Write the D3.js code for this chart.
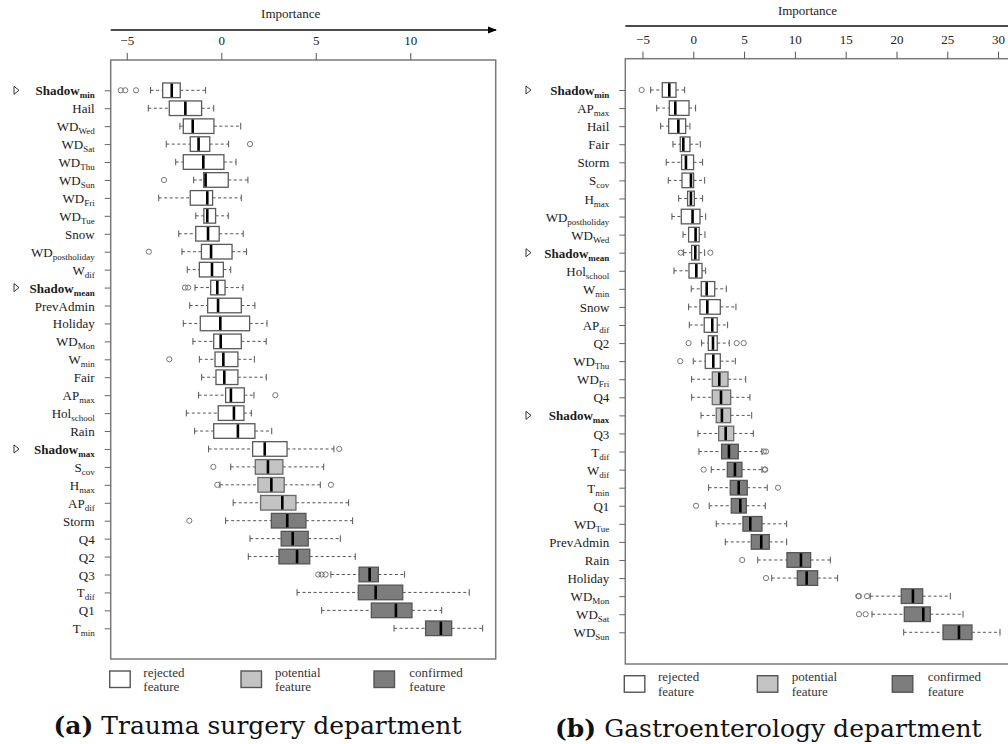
<!DOCTYPE html>
<html><head><meta charset="utf-8">
<script src="https://cdn.jsdelivr.net/npm/d3@7"></script>
<style>body{margin:0;background:#fff}svg{display:block}</style>
</head><body><svg id="c" width="1008" height="744"></svg>
<script>
// ---------- DATA: (a) Trauma surgery department ----------
const leftFeatures = ["Shadow_min","Hail","WD_Wed","WD_Sat","WD_Thu","WD_Sun","WD_Fri","WD_Tue","Snow","WD_postholiday","W_dif","Shadow_mean","PrevAdmin","Holiday","WD_Mon","W_min","Fair","AP_max","Hol_school","Rain","Shadow_max","S_cov","H_max","AP_dif","Storm","Q4","Q2","Q3","T_dif","Q1","T_min"];
const leftStatus = ["r","r","r","r","r","r","r","r","r","r","r","r","r","r","r","r","r","r","r","r","r","p","p","p","c","c","c","c","c","c","c"];
const leftMin    = [-3.74,-3.86,-2.19,-2.91,-2.41,-1.46,-3.31,-1.35,-2.25,-2.08,-1.80,-1.39,-1.67,-2.01,-1.50,-1.16,-1.04,-1.20,-1.85,-1.41,-0.67,0.50,-0.07,0.63,0.23,1.52,1.43,5.80,4.01,5.31,9.14];
const leftQ1     = [-3.10,-2.75,-2.01,-1.64,-2.01,-0.93,-1.64,-0.92,-1.35,-1.05,-1.16,-0.56,-0.72,-1.11,-0.40,-0.33,-0.28,0.23,-0.16,-0.40,1.66,1.80,1.94,2.08,2.65,3.17,3.05,7.29,7.25,7.94,10.81];
const leftMedian = [-2.62,-1.90,-1.51,-1.20,-0.95,-0.83,-0.74,-0.74,-0.70,-0.54,-0.49,-0.21,-0.17,-0.05,-0.03,0.11,0.16,0.51,0.67,0.88,2.30,2.47,2.65,3.23,3.49,3.78,4.01,7.85,8.17,9.24,11.62];
const leftQ3     = [-2.17,-1.04,-0.39,-0.61,0.14,0.37,-0.46,-0.30,-0.11,0.57,0.11,0.20,1.06,1.50,1.06,0.88,0.88,1.22,1.20,1.78,3.48,3.26,3.33,3.95,4.48,4.60,4.68,8.31,9.60,10.09,12.19];
const leftMax    = [-0.83,-0.40,1.03,0.39,0.78,1.41,1.06,0.37,1.16,1.34,0.50,1.15,1.78,2.42,2.38,1.75,2.38,1.73,1.59,2.67,5.96,5.42,5.24,6.74,6.95,6.30,7.09,9.70,13.12,11.66,13.83];
const leftOutliers = [[-5.32,-5.08,-4.51],[],[],[1.52],[],[-3.03],[],[],[],[-3.83],[],[-1.92,-1.75],[],[],[],[-2.75],[],[2.86],[],[],[6.24],[-0.42],[-0.21,5.80],[],[-1.69],[],[],[5.13,5.31,5.52],[],[],[]];
const leftTicks = [-5,0,5,10];

// ---------- DATA: (b) Gastroenterology department ----------
const rightFeatures = ["Shadow_min","AP_max","Hail","Fair","Storm","S_cov","H_max","WD_postholiday","WD_Wed","Shadow_mean","Hol_school","W_min","Snow","AP_dif","Q2","WD_Thu","WD_Fri","Q4","Shadow_max","Q3","T_dif","W_dif","T_min","Q1","WD_Tue","PrevAdmin","Rain","Holiday","WD_Mon","WD_Sat","WD_Sun"];
const rightStatus = ["r","r","r","r","r","r","r","r","r","r","r","r","r","r","r","r","p","p","p","p","c","c","c","c","c","c","c","c","c","c","c"];
const rightMin    = [-4.19,-3.60,-3.21,-2.00,-2.66,-2.46,-1.44,-2.10,-1.01,-0.95,-1.90,-0.20,-0.46,-0.39,0.82,0.00,-0.16,-0.16,0.76,0.46,0.56,1.77,1.51,1.57,2.26,3.15,6.34,7.72,17.42,17.59,20.71];
const rightQ1     = [-3.05,-2.36,-2.42,-1.28,-1.15,-1.11,-0.56,-1.18,-0.46,-0.16,-0.42,0.79,0.66,1.08,1.48,1.18,1.87,1.87,2.26,2.50,2.79,3.35,3.64,3.74,4.89,5.71,9.22,10.24,20.47,20.77,24.58];
const rightMedian = [-2.36,-1.77,-1.47,-0.98,-0.72,-0.23,-0.23,-0.07,0.23,0.20,0.30,1.32,1.38,1.87,1.94,1.97,2.56,2.73,2.82,3.19,3.51,4.10,4.47,4.63,5.61,6.69,10.60,11.16,21.62,22.64,26.15];
const rightQ3     = [-1.70,-0.42,-0.75,-0.33,0.03,0.03,0.10,0.66,0.59,0.56,0.86,2.11,2.66,2.36,2.36,2.66,3.42,3.68,3.68,3.98,4.43,4.79,5.31,5.22,6.76,7.48,11.55,12.24,22.58,23.33,27.43];
const rightMax    = [-0.85,0.23,-0.33,0.69,0.92,1.12,0.92,1.22,1.15,1.12,1.22,3.25,4.20,3.38,3.54,4.14,5.16,5.58,5.75,5.91,6.76,6.76,7.28,7.09,9.19,9.19,13.49,14.21,25.30,26.55,30.19];
const rightOutliers = [[-5.08],[],[],[],[],[],[],[],[],[-1.24,1.68],[],[],[],[],[-0.46,4.27,4.96],[-1.28],[],[],[],[],[6.93,7.16],[1.02,7.02,7.08],[8.34],[0.27],[],[],[4.82],[7.16],[16.24,16.30,17.10],[16.31,16.97],[]];
const rightTicks = [-5,0,5,10,15,20,25,30];

const legendLabels = [["rejected","feature"],["potential","feature"],["confirmed","feature"]];
const statusKeys = ["r","p","c"];
const captions = [["(a)"," Trauma surgery department"],["(b)"," Gastroenterology department"]];

// ---------- STYLE ----------
const FILL = {r:"#ffffff", p:"#c3c3c3", c:"#7d7d7d"};
const STROKE = {r:"#5a5a5a", p:"#6a6a6a", c:"#555555"};
const FONT = "'Liberation Serif', 'Times New Roman', serif";
const CAPFONT = "'DejaVu Serif', serif";
const svg = d3.select("#c");

function drawPanel(o) {
  const g = svg.append("g");
  const x = d3.scaleLinear().domain(o.domain).range(o.xRange);
  const y = d3.scalePoint().domain(o.features).range(o.yRange);
  const bh = 14.6;

  // frame
  g.append("rect").attr("x", o.xRange[0]).attr("y", o.frameTop)
    .attr("width", o.xRange[1]-o.xRange[0]).attr("height", o.frameBottom-o.frameTop)
    .attr("fill","none").attr("stroke","#7a7a7a").attr("stroke-width",1.5);

  // top axis line
  g.append("line").attr("x1", o.xRange[0]).attr("x2", o.axisLineEnd)
    .attr("y1", o.axisLineY).attr("y2", o.axisLineY).attr("stroke","#111").attr("stroke-width",1.3);
  if (o.arrow) {
    const ax = o.axisLineEnd;
    g.append("path").attr("d", `M${ax-8},${o.axisLineY-3.5}L${ax+1},${o.axisLineY}L${ax-8},${o.axisLineY+3.5}Z`).attr("fill","#000");
  }
  g.append("text").attr("x", o.titleX).attr("y", o.titleY).attr("text-anchor","middle")
    .attr("dominant-baseline","central").attr("font-family",FONT).attr("font-size",13).attr("fill","#222")
    .text("Importance");

  // x ticks
  const xa = g.append("g").attr("transform",`translate(0,${o.frameTop})`)
    .call(d3.axisTop(x).tickValues(o.ticks).tickSize(7).tickPadding(8).tickFormat(d3.format("d")));
  xa.select(".domain").remove();
  xa.selectAll(".tick line").attr("stroke","#555");
  xa.selectAll(".tick text").attr("font-family",FONT).attr("font-size",13).attr("fill","#222");

  // y ticks
  const ya = g.append("g").attr("transform",`translate(${o.xRange[0]},0)`)
    .call(d3.axisLeft(y).tickSize(6).tickPadding(10));
  ya.select(".domain").remove();
  ya.selectAll(".tick line").attr("stroke","#666");
  ya.selectAll(".tick text").each(function(d){
    const t = d3.select(this).text("").attr("font-family",FONT).attr("font-size",13).attr("fill","#1a1a1a").attr("dy","0.35em");
    const parts = d.split("_");
    const bold = parts[0] === "Shadow";
    t.append("tspan").text(parts[0]).attr("font-weight", bold ? "bold" : null);
    if (parts[1]) t.append("tspan").text(parts[1]).attr("font-size",9).attr("dy",3).attr("font-weight", bold ? "bold" : null);
  });

  // shadow markers
  o.features.forEach(f => {
    if (f.startsWith("Shadow")) {
      const yy = y(f);
      g.append("path").attr("d",`M${o.triX},${yy-4}L${o.triX+5},${yy}L${o.triX},${yy+4}Z`)
        .attr("fill","#fff").attr("stroke","#222").attr("stroke-width",0.9);
    }
  });

  // boxes
  const rows = o.features.map((f,i) => ({f, s:o.status[i], lo:o.min[i], q1:o.q1[i], md:o.med[i], q3:o.q3[i], hi:o.max[i], out:o.out[i]}));
  const rg = g.selectAll("g.row").data(rows).join("g").attr("class","row")
    .attr("transform", d => `translate(0,${y(d.f)})`);
  rg.append("line").attr("x1", d=>x(d.lo)).attr("x2", d=>x(d.q1)).attr("stroke","#555").attr("stroke-dasharray","3,2.5").attr("stroke-width",1);
  rg.append("line").attr("x1", d=>x(d.q3)).attr("x2", d=>x(d.hi)).attr("stroke","#555").attr("stroke-dasharray","3,2.5").attr("stroke-width",1);
  rg.append("line").attr("x1", d=>x(d.lo)).attr("x2", d=>x(d.lo)).attr("y1",-3.3).attr("y2",3.3).attr("stroke","#555");
  rg.append("line").attr("x1", d=>x(d.hi)).attr("x2", d=>x(d.hi)).attr("y1",-3.3).attr("y2",3.3).attr("stroke","#555");
  rg.append("rect").attr("x", d=>x(d.q1)).attr("width", d=>x(d.q3)-x(d.q1)).attr("y",-bh/2).attr("height",bh)
    .attr("fill", d=>FILL[d.s]).attr("stroke", d=>STROKE[d.s]).attr("stroke-width",1.3);
  rg.append("line").attr("x1", d=>x(d.md)).attr("x2", d=>x(d.md)).attr("y1",-bh/2+0.6).attr("y2",bh/2-0.6)
    .attr("stroke","#000").attr("stroke-width",2.6);
  rg.each(function(d){
    d3.select(this).selectAll("circle").data(d.out).join("circle")
      .attr("cx", v=>x(v)).attr("cy",0).attr("r",2.6).attr("fill","none").attr("stroke","#777").attr("stroke-width",1);
  });

  // legend
  statusKeys.forEach((k,i) => {
    g.append("rect").attr("x", o.legRectX[i]).attr("y", o.legY).attr("width",20.5).attr("height",16.5)
      .attr("fill", FILL[k]).attr("stroke","#555").attr("stroke-width",1.4);
    legendLabels[i].forEach((line,j) => {
      g.append("text").attr("x", o.legTextX[i]).attr("y", o.legY + 1 + j*14.7)
        .attr("dominant-baseline","central").attr("font-family",FONT).attr("font-size",13).attr("fill","#333").text(line);
    });
  });

  // caption
  const cap = g.append("text").attr("x", o.capX).attr("y", o.capY).attr("text-anchor","middle")
    .attr("dominant-baseline","central").attr("font-family",CAPFONT).attr("font-size",25).attr("fill","#111")
    .attr("textLength", o.capW).attr("lengthAdjust","spacing");
  cap.append("tspan").attr("font-weight","bold").text(o.caption[0]);
  cap.append("tspan").text(o.caption[1]);
}

drawPanel({
  features:leftFeatures, status:leftStatus, min:leftMin, q1:leftQ1, med:leftMedian, q3:leftQ3, max:leftMax, out:leftOutliers,
  ticks:leftTicks, domain:[-5.85,14.52], xRange:[110.7,495.7], yRange:[90.3,628.3],
  frameTop:60, frameBottom:659, axisLineY:30, axisLineEnd:496, arrow:true, titleX:290.7, titleY:13.5, triX:14,
  legRectX:[109.7,241,374], legTextX:[143.3,275,409.3], legY:671,
  capX:257.5, capY:725, capW:408, caption:captions[0]
});
drawPanel({
  features:rightFeatures, status:rightStatus, min:rightMin, q1:rightQ1, med:rightMedian, q3:rightQ3, max:rightMax, out:rightOutliers,
  ticks:rightTicks, domain:[-6.69,31.37], xRange:[625.3,1012], yRange:[90,632.3],
  frameTop:58.7, frameBottom:664, axisLineY:26, axisLineEnd:1010, arrow:false, titleX:807.5, titleY:10, triX:526,
  legRectX:[624.3,757.3,892.3], legTextX:[658,791.7,927.7], legY:675.7,
  capX:768.3, capY:728, capW:426.7, caption:captions[1]
});
</script></body></html>
